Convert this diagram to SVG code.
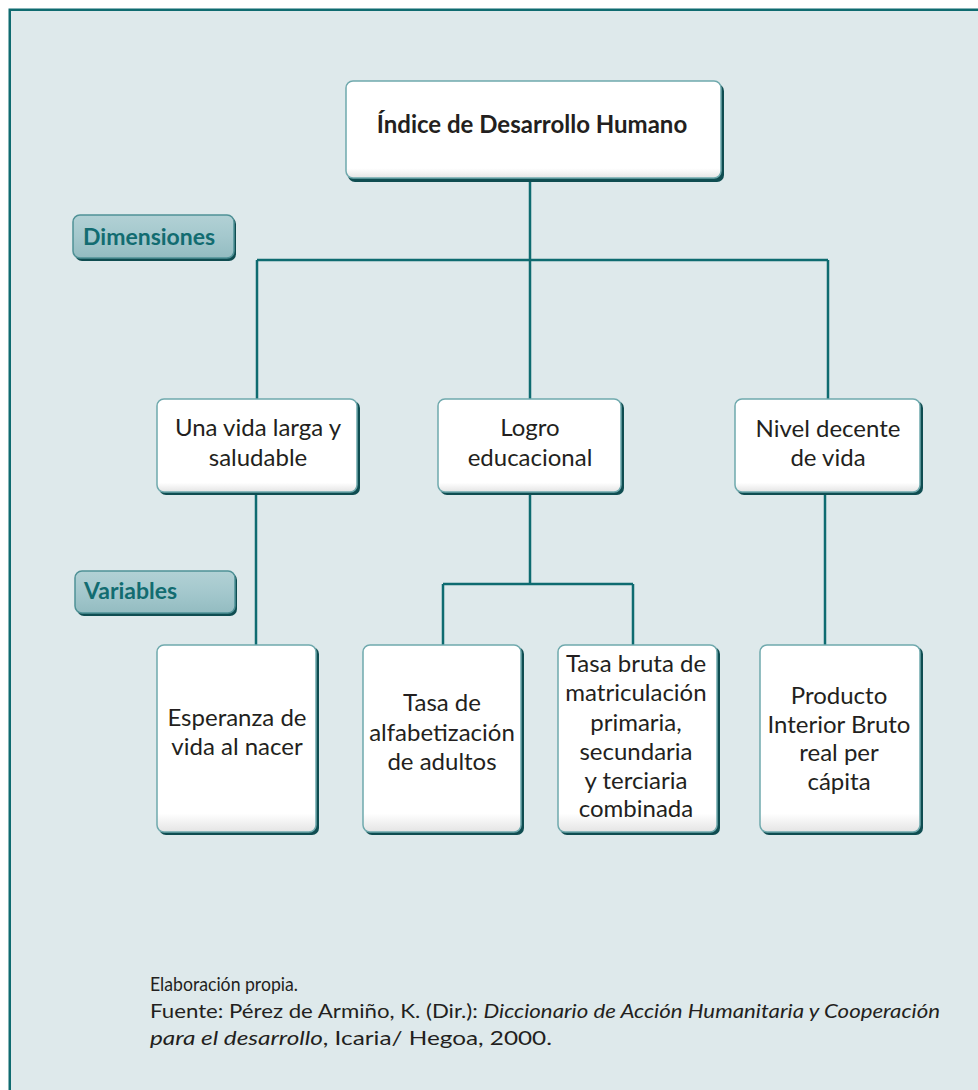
<svg xmlns="http://www.w3.org/2000/svg" width="978" height="1090" viewBox="0 0 978 1090">
<style>
.box{fill:url(#boxg);stroke:#6fa9ad;stroke-width:1.5}
.shadow{fill:#0f4d51}
.pill{fill:url(#pillg);stroke:#4f9196;stroke-width:1.5}
.lbl{font-family:Lato,"Open Sans",sans-serif;font-size:24px;fill:#231f20;text-anchor:middle}
.title{font-family:Lato,"Open Sans",sans-serif;font-size:24px;font-weight:bold;fill:#231f20;text-anchor:middle}
.ptxt{font-family:Lato,"Open Sans",sans-serif;font-size:23px;font-weight:bold;fill:#126c71}
.foot{font-family:Lato,"Open Sans",sans-serif;font-size:19px;fill:#231f20}
.conn{fill:none;stroke:#0e6b70;stroke-width:2.5}
</style>
<defs>
<linearGradient id="boxg" x1="0" y1="0" x2="0" y2="1">
<stop offset="0" stop-color="#ffffff"/>
<stop offset="0.9" stop-color="#ffffff"/>
<stop offset="1" stop-color="#e4e4e4"/>
</linearGradient>
<linearGradient id="pillg" x1="0" y1="0" x2="0" y2="1">
<stop offset="0" stop-color="#b2d1d5"/>
<stop offset="0.5" stop-color="#a4c8cd"/>
<stop offset="1" stop-color="#93bcc1"/>
</linearGradient>
</defs>
<rect x="0" y="0" width="978" height="1090" fill="#ffffff"/>
<rect x="9.75" y="9.75" width="1000" height="1100" fill="#dee9eb" stroke="#0f6b70" stroke-width="2.5"/>

<g id="connectors">
<path class="conn" d="M530 179 V260 M257 260 H828 M257 260 V399 M530 260 V399 M828 260 V399"/>
<path class="conn" d="M256 493 V645"/>
<path class="conn" d="M530 493 V584 M443 584 H633 M443 584 V645 M633 584 V645"/>
<path class="conn" d="M825 493 V645"/>
</g>

<g id="node-idh">
<rect class="shadow" x="348" y="84" width="376" height="98" rx="7"/>
<rect class="box" x="346" y="81" width="375" height="97" rx="7"/>
<text class="title" x="532" y="133">Índice de Desarrollo Humano</text>
</g>

<g id="label-dimensiones">
<rect class="shadow" x="75" y="217" width="161" height="44" rx="7"/>
<rect class="pill" x="73" y="215" width="161" height="43" rx="7"/>
<text class="ptxt" x="83" y="245">Dimensiones</text>
</g>

<g id="label-variables">
<rect class="shadow" x="77" y="573" width="160" height="43" rx="7"/>
<rect class="pill" x="75" y="571" width="160" height="42" rx="7"/>
<text class="ptxt" x="84" y="599">Variables</text>
</g>

<g id="node-vida">
<rect class="shadow" x="159" y="401" width="201" height="94" rx="7"/>
<rect class="box" x="157" y="399" width="200" height="93" rx="7"/>
<text class="lbl" x="258" y="436">Una vida larga y</text>
<text class="lbl" x="258" y="466">saludable</text>
</g>

<g id="node-logro">
<rect class="shadow" x="440" y="401" width="184" height="94" rx="7"/>
<rect class="box" x="438" y="399" width="183" height="93" rx="7"/>
<text class="lbl" x="530" y="436">Logro</text>
<text class="lbl" x="530" y="466">educacional</text>
</g>

<g id="node-nivel">
<rect class="shadow" x="737" y="401" width="186" height="94" rx="7"/>
<rect class="box" x="735" y="399" width="185" height="93" rx="7"/>
<text class="lbl" x="828" y="437">Nivel decente</text>
<text class="lbl" x="828" y="466">de vida</text>
</g>

<g id="node-esperanza">
<rect class="shadow" x="159" y="647" width="160" height="188" rx="7"/>
<rect class="box" x="157" y="645" width="159" height="187" rx="7"/>
<text class="lbl" x="237" y="726">Esperanza de</text>
<text class="lbl" x="237" y="755">vida al nacer</text>
</g>

<g id="node-alfabetizacion">
<rect class="shadow" x="365" y="647" width="159" height="188" rx="7"/>
<rect class="box" x="363" y="645" width="158" height="187" rx="7"/>
<text class="lbl" x="442" y="711">Tasa de</text>
<text class="lbl" x="442" y="741">alfabetización</text>
<text class="lbl" x="442" y="770">de adultos</text>
</g>

<g id="node-matriculacion">
<rect class="shadow" x="560" y="647" width="160" height="188" rx="7"/>
<rect class="box" x="558" y="645" width="159" height="187" rx="7"/>
<text class="lbl" x="636" y="672">Tasa bruta de</text>
<text class="lbl" x="636" y="701">matriculación</text>
<text class="lbl" x="636" y="731">primaria,</text>
<text class="lbl" x="636" y="760">secundaria</text>
<text class="lbl" x="636" y="789">y terciaria</text>
<text class="lbl" x="636" y="817">combinada</text>
</g>

<g id="node-pib">
<rect class="shadow" x="762" y="647" width="161" height="188" rx="7"/>
<rect class="box" x="760" y="645" width="160" height="187" rx="7"/>
<text class="lbl" x="839" y="704">Producto</text>
<text class="lbl" x="839" y="733">Interior Bruto</text>
<text class="lbl" x="839" y="761">real per</text>
<text class="lbl" x="839" y="790">cápita</text>
</g>

<g id="footnote">
<text class="foot" x="150" y="991" textLength="148" lengthAdjust="spacingAndGlyphs">Elaboración propia.</text>
<text class="foot" x="150" y="1018" textLength="790" lengthAdjust="spacingAndGlyphs">Fuente: Pérez de Armiño, K. (Dir.): <tspan font-style="italic">Diccionario de Acción Humanitaria y Cooperación</tspan></text>
<text class="foot" x="150" y="1045" textLength="402" lengthAdjust="spacingAndGlyphs"><tspan font-style="italic">para el desarrollo</tspan>, Icaria/ Hegoa, 2000.</text>
</g>
</svg>
